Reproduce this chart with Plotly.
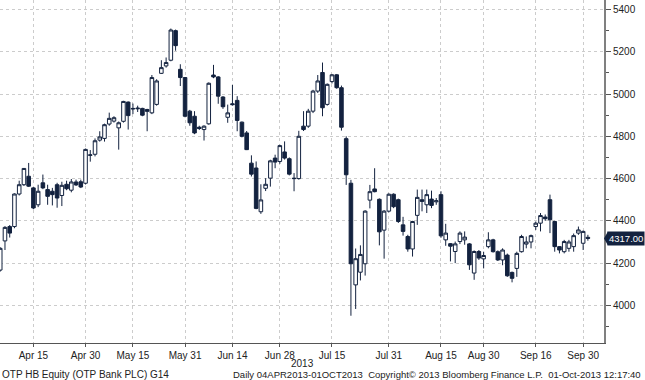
import pandas as pd
import plotly.graph_objects as go

# trading days (Budapest), 04 Apr 2013 - 01 Oct 2013
holidays = ["2013-05-01", "2013-05-20", "2013-08-19", "2013-08-20"]
dates = [d.strftime("%Y-%m-%d") for d in pd.bdate_range("2013-04-04", "2013-10-01")
         if d.strftime("%Y-%m-%d") not in holidays]

opens = [4167, 4305, 4373, 4373, 4527, 4571, 4611, 4556, 4476, 4580,
         4548, 4540, 4571, 4520, 4573, 4545, 4584, 4585, 4578, 4710,
         4715, 4782, 4790, 4858, 4872, 4840, 4871, 4962, 4932, 4930,
         4932, 4927, 4911, 4951, 5098, 5133, 5160, 5300, 5117, 5078,
         4919, 4895, 4843, 4832, 4859, 5090, 5081, 4986, 4890, 4954,
         4970, 4867, 4816, 4673, 4650, 4443, 4554, 4602, 4697, 4681,
         4726, 4694, 4602, 4600, 4848, 4848, 4919, 5014, 5102, 4951,
         5059, 5091, 5030, 4789, 4578, 4097, 4157, 4197, 4498, 4551,
         4502, 4356, 4446, 4526, 4500, 4381, 4326, 4267, 4426, 4500,
         4476, 4503, 4490, 4524, 4310, 4292, 4255, 4302, 4310, 4291,
         4153, 4255, 4220, 4278, 4310, 4254, 4215, 4238, 4156, 4175,
         4254, 4290, 4300, 4373, 4389, 4418, 4500, 4397, 4278, 4254,
         4270, 4278, 4342, 4294, 4322]
highs = [4275, 4375, 4380, 4530, 4590, 4650, 4674, 4560, 4571, 4619,
         4571, 4556, 4580, 4585, 4590, 4598, 4595, 4595, 4742, 4735,
         4790, 4824, 4860, 4912, 4895, 4870, 4968, 4965, 4955, 4945,
         4935, 4930, 5090, 5070, 5160, 5173, 5310, 5305, 5141, 5080,
         4925, 4919, 4850, 4852, 5055, 5138, 5085, 4990, 4950, 5043,
         4990, 4870, 4825, 4710, 4681, 4573, 4602, 4689, 4713, 4760,
         4776, 4700, 4626, 4826, 4919, 4930, 5020, 5090, 5149, 5050,
         5095, 5095, 5040, 4800, 4594, 4269, 4284, 4450, 4570, 4649,
         4506, 4451, 4530, 4530, 4505, 4419, 4334, 4400, 4548, 4548,
         4548, 4543, 4508, 4540, 4386, 4295, 4302, 4350, 4350, 4295,
         4260, 4262, 4254, 4346, 4315, 4260, 4270, 4245, 4160, 4254,
         4334, 4326, 4335, 4397, 4437, 4430, 4524, 4400, 4280, 4310,
         4310, 4340, 4373, 4354, 4334]
lows = [4160, 4262, 4321, 4365, 4520, 4565, 4560, 4455, 4465, 4550,
        4476, 4473, 4462, 4470, 4545, 4535, 4565, 4555, 4572, 4680,
        4705, 4775, 4775, 4850, 4865, 4737, 4865, 4832, 4905, 4915,
        4895, 4824, 4905, 4945, 5095, 5125, 5155, 5205, 5038, 4890,
        4850, 4810, 4830, 4780, 4855, 5075, 4954, 4930, 4864, 4945,
        4824, 4795, 4735, 4610, 4455, 4433, 4541, 4562, 4649, 4670,
        4690, 4615, 4540, 4595, 4825, 4840, 4910, 5005, 4895, 4945,
        5050, 5025, 4827, 4570, 3951, 3983, 4118, 4141, 4459, 4535,
        4284, 4221, 4440, 4460, 4390, 4330, 4254, 4231, 4381, 4445,
        4437, 4460, 4476, 4320, 4282, 4208, 4200, 4290, 4287, 4168,
        4121, 4215, 4175, 4270, 4250, 4210, 4190, 4135, 4109, 4135,
        4250, 4270, 4270, 4357, 4350, 4400, 4342, 4254, 4246, 4246,
        4254, 4254, 4334, 4262, 4306]
closes = [4270, 4369, 4342, 4527, 4571, 4648, 4564, 4461, 4540, 4556,
          4516, 4524, 4508, 4568, 4552, 4584, 4570, 4560, 4738, 4712,
          4779, 4797, 4855, 4885, 4888, 4864, 4965, 4898, 4930, 4933,
          4900, 4918, 5078, 5062, 5125, 5149, 5303, 5229, 5078, 4895,
          4864, 4816, 4837, 4848, 5051, 5081, 4990, 4940, 4911, 4950,
          4875, 4800, 4737, 4621, 4459, 4499, 4573, 4684, 4678, 4756,
          4697, 4621, 4600, 4800, 4832, 4919, 5014, 5062, 4935, 5046,
          5091, 5030, 4843, 4618, 4197, 4221, 4241, 4446, 4538, 4538,
          4348, 4446, 4526, 4467, 4397, 4350, 4267, 4397, 4511, 4492,
          4524, 4473, 4495, 4329, 4342, 4280, 4291, 4342, 4323, 4192,
          4255, 4224, 4236, 4310, 4254, 4215, 4262, 4140, 4128, 4246,
          4326, 4300, 4330, 4389, 4425, 4410, 4405, 4278, 4262, 4302,
          4300, 4330, 4357, 4350, 4317]

tick_dates = ["2013-04-15", "2013-04-30", "2013-05-15", "2013-05-31", "2013-06-14",
              "2013-06-28", "2013-07-15", "2013-07-31", "2013-08-15", "2013-08-30",
              "2013-09-16", "2013-09-30"]
tick_labels = ["Apr 15", "Apr 30", "May 15", "May 31", "Jun 14", "Jun 28",
               "Jul 15", "Jul 31", "Aug 15", "Aug 30", "Sep 16", "Sep 30"]
y_ticks = [4000, 4200, 4400, 4600, 4800, 5000, 5200, 5400]
last_price = 4317.00

NAVY = "#13223f"
FONT = "Liberation Sans"
TXT = "#222222"

fig = go.Figure(go.Candlestick(
    x=dates, open=opens, high=highs, low=lows, close=closes,
    increasing=dict(line=dict(color=NAVY, width=1), fillcolor="#ffffff"),
    decreasing=dict(line=dict(color=NAVY, width=1), fillcolor=NAVY),
    whiskerwidth=0, showlegend=False, hoverinfo="skip",
))

fig.update_layout(
    width=645, height=380,
    margin=dict(l=0, r=41, t=0, b=37, pad=0, autoexpand=False),
    paper_bgcolor="#ffffff", plot_bgcolor="#ffffff",
    boxgap=0.25, boxgroupgap=0,
    font=dict(family=FONT, size=10, color=TXT),
    xaxis=dict(
        type="category", range=[-0.05, 127.4],
        rangeslider=dict(visible=False),
        tickmode="array", tickvals=tick_dates, ticktext=tick_labels,
        showgrid=True, gridcolor="#cccccc", griddash="dot", gridwidth=1,
        showline=True, linecolor="#555555", linewidth=1,
        ticks="outside", ticklen=3, tickcolor="#555555",
        tickfont=dict(family=FONT, size=10, color=TXT),
        zeroline=False, fixedrange=True, automargin=False,
    ),
    yaxis=dict(
        side="right", range=[3822, 5445],
        tickmode="array", tickvals=y_ticks,
        showgrid=True, gridcolor="#cccccc", griddash="dot", gridwidth=1,
        showline=True, linecolor="#808080", linewidth=2,
        ticks="outside", ticklen=5, tickcolor="#555555",
        minor=dict(dtick=100, tick0=0, ticks="outside", ticklen=3,
                   tickcolor="#555555", showgrid=False),
        tickfont=dict(family=FONT, size=10, color=TXT),
        zeroline=False, fixedrange=True, automargin=False,
    ),
)

# last price tag
fig.add_annotation(
    x=1, xref="paper", xanchor="left", xshift=3,
    y=last_price, yref="y", yanchor="middle",
    text=f"{last_price:.2f}", showarrow=False,
    bgcolor=NAVY, borderpad=1,
    font=dict(family=FONT, size=9.5, color="#ffffff"),
)
px = 1 / 604
fig.add_shape(type="path", xref="paper", yref="y",
              path=f"M {1 + 0*px} {last_price} L {1 + 4*px} {last_price + 34} L {1 + 4*px} {last_price - 34} Z",
              fillcolor=NAVY, line=dict(width=0))

# year label and footer
fig.add_annotation(x=302 / 604, xref="paper", y=-20 / 343, yref="paper",
                   text="2013", showarrow=False, xanchor="center", yanchor="middle",
                   font=dict(family=FONT, size=10, color=TXT))
fig.add_annotation(x=0, xref="paper", y=-31 / 343, yref="paper",
                   text="OTP HB Equity (OTP Bank PLC) G14", showarrow=False,
                   xanchor="left", yanchor="middle",
                   font=dict(family=FONT, size=10, color=TXT))
fig.add_annotation(x=643 / 604, xref="paper", y=-31 / 343, yref="paper",
                   text="Daily 04APR2013-01OCT2013  Copyright\u00a9 2013 Bloomberg Finance L.P.  01-Oct-2013 12:17:40",
                   showarrow=False, xanchor="right", yanchor="middle",
                   font=dict(family=FONT, size=9.5, color=TXT))

fig.write_html("out.html", config={"displayModeBar": False, "staticPlot": True},
               post_script="document.body.style.margin='0';document.body.style.padding='0';")
